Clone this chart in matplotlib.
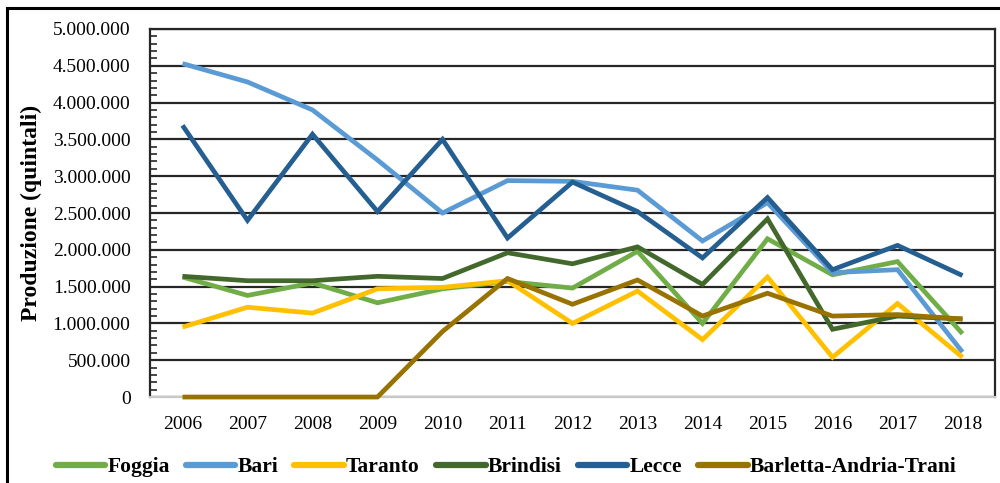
import matplotlib
matplotlib.use("Agg")
import matplotlib.pyplot as plt
from matplotlib.lines import Line2D
from matplotlib.ticker import MultipleLocator, FuncFormatter

years = ["2006", "2007", "2008", "2009", "2010", "2011", "2012",
         "2013", "2014", "2015", "2016", "2017", "2018"]

foggia = [1630000, 1380000, 1550000, 1280000, 1470000, 1570000, 1480000,
          1980000, 1000000, 2150000, 1660000, 1840000, 860000]
bari = [4530000, 4280000, 3900000, 3220000, 2500000, 2940000, 2930000,
        2810000, 2120000, 2640000, 1690000, 1730000, 610000]
taranto = [950000, 1220000, 1140000, 1470000, 1490000, 1580000, 1000000,
           1440000, 780000, 1630000, 540000, 1270000, 540000]
brindisi = [1640000, 1580000, 1580000, 1640000, 1610000, 1960000, 1810000,
            2040000, 1530000, 2420000, 920000, 1100000, 1060000]
lecce = [3690000, 2400000, 3570000, 2520000, 3500000, 2160000, 2920000,
         2520000, 1890000, 2710000, 1730000, 2060000, 1650000]
bat = [0, 0, 0, 0, 890000, 1610000, 1260000,
       1590000, 1100000, 1410000, 1100000, 1120000, 1060000]

series = [
    ("Foggia", foggia, "#70AD47"),
    ("Bari", bari, "#5B9BD5"),
    ("Taranto", taranto, "#FFC000"),
    ("Brindisi", brindisi, "#43682B"),
    ("Lecce", lecce, "#255E91"),
    ("Barletta-Andria-Trani", bat, "#997300"),
]

plt.rcParams["font.family"] = ["Liberation Serif", "DejaVu Serif"]

fig = plt.figure(figsize=(10, 4.83), dpi=100)
ax = fig.add_axes([0.15, 0.178, 0.845, 0.762])

x = list(range(len(years)))
for name, vals, col in series:
    ax.plot(x, vals, color=col, linewidth=3.4, label=name,
            solid_joinstyle="miter", solid_capstyle="butt",
            clip_on=False, zorder=3)

ax.set_xlim(-0.5, len(years) - 0.5)
ax.set_ylim(0, 5000000)
ax.set_xticks(x)
ax.set_xticklabels(years)
ax.yaxis.set_major_locator(MultipleLocator(500000))
ax.yaxis.set_minor_locator(MultipleLocator(100000))
ax.yaxis.set_major_formatter(
    FuncFormatter(lambda v, p: f"{int(v):,}".replace(",", "."))
)

# grid and frame
ax.yaxis.grid(True, color="#262626", linewidth=1.6)
ax.set_axisbelow(True)
for s in ["left", "top", "right"]:
    ax.spines[s].set_color("#262626")
    ax.spines[s].set_linewidth(1.6)
ax.spines["bottom"].set_color("#c8c8c8")
ax.spines["bottom"].set_linewidth(1.6)

ax.tick_params(axis="y", which="major", length=0, pad=14, labelsize=14)
ax.tick_params(axis="y", which="minor", direction="in", length=5,
               width=1.2, color="#262626")
ax.tick_params(axis="x", length=0, pad=14, labelsize=14)

ax.set_ylabel("Produzione (quintali)", fontsize=17, fontweight="bold",
              labelpad=8)

leg = fig.legend(loc="center", bbox_to_anchor=(0.506, 0.033), ncol=6,
                 frameon=False, handlelength=2.3, handletextpad=0.1,
                 columnspacing=0.75, prop={"weight": "bold", "size": 15.5})
for h in leg.get_lines():
    h.set_linewidth(4.5)
    h.set_solid_capstyle("round")

# outer border of the figure (left and top visible)
fig.add_artist(Line2D([0.007, 0.007], [0, 1 - 8 / 483], color="black",
                      linewidth=2.2, transform=fig.transFigure))
fig.add_artist(Line2D([0.007, 1.0], [1 - 8 / 483, 1 - 8 / 483],
                      color="black", linewidth=2.2,
                      transform=fig.transFigure))

fig.savefig("out.png", dpi=100)
